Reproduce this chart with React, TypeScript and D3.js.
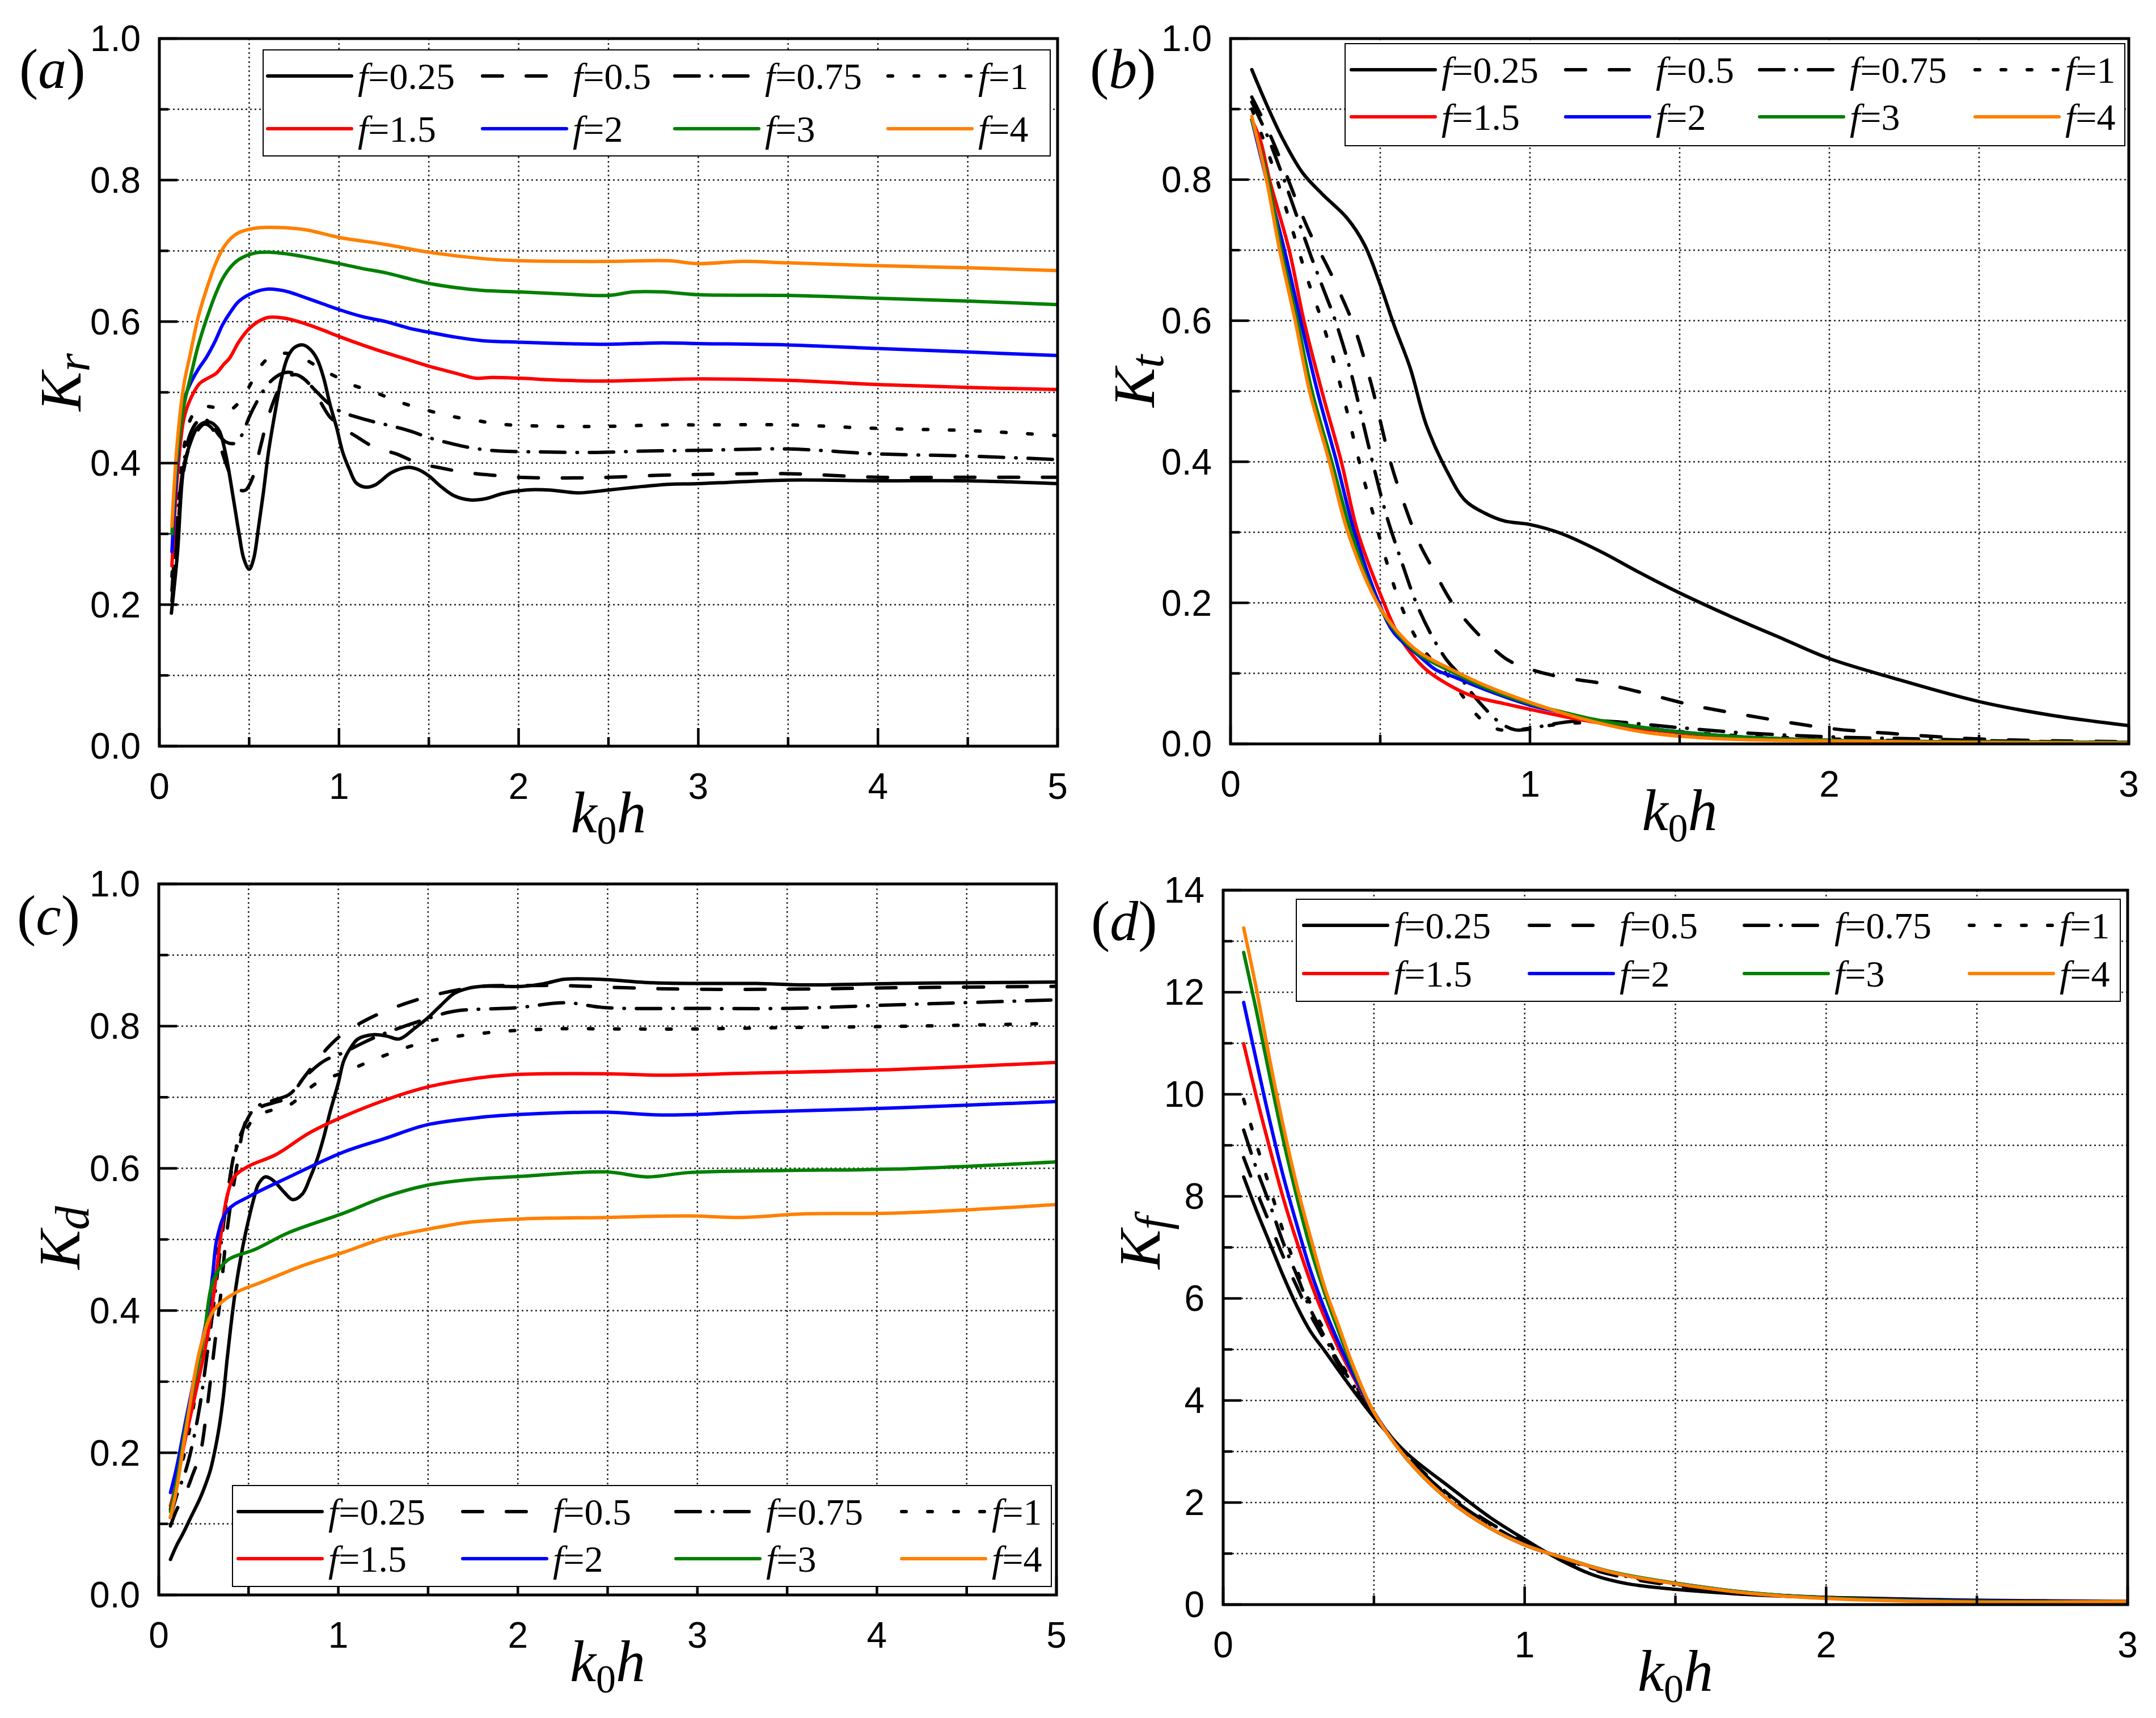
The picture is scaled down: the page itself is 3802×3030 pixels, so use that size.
import React, { useEffect } from 'react';
import * as d3 from 'd3';

// figure size (px)
const W = 3802;
const H = 3030;

const SANS = "'Liberation Sans', Arial, sans-serif";
const SERIF = "'Liberation Serif', 'Times New Roman', serif";

// series: f values, colors, dash styles (legend order)
const fLabels = ['0.25', '0.5', '0.75', '1', '1.5', '2', '3', '4'];
const seriesColors = ['#000000', '#000000', '#000000', '#000000', '#ff0000', '#0000ff', '#008000', '#ff8000'];
const seriesDash = ['', '35,42', '43,21,1,21', '8,38', '', '', '', ''];

// tick values
const xTicks5 = [0, 1, 2, 3, 4, 5];
const xTicks3 = [0, 1, 2, 3];
const yTicksK = [0, 0.2, 0.4, 0.6, 0.8, 1.0];
const yTicksKf = [0, 2, 4, 6, 8, 10, 12, 14];

type Pt = [number, number];

// ---------- (a) Kr ----------
const krF025: Pt[] = [[0.067,0.188],[0.1,0.27],[0.136,0.395],[0.172,0.428],[0.208,0.449],[0.245,0.457],[0.28,0.458],[0.308,0.454],[0.335,0.445],[0.37,0.412],[0.41,0.353],[0.444,0.3],[0.47,0.265],[0.5,0.25],[0.525,0.265],[0.553,0.311],[0.58,0.36],[0.607,0.415],[0.643,0.47],[0.68,0.52],[0.715,0.55],[0.75,0.563],[0.8,0.567],[0.843,0.56],[0.88,0.546],[0.915,0.52],[0.95,0.483],[0.987,0.45],[1.02,0.416],[1.06,0.39],[1.096,0.372],[1.15,0.366],[1.2,0.369],[1.295,0.387],[1.386,0.394],[1.44,0.391],[1.5,0.382],[1.567,0.367],[1.64,0.354],[1.73,0.348],[1.82,0.35],[1.91,0.357],[2.04,0.362],[2.17,0.362],[2.33,0.358],[2.5,0.362],[2.65,0.366],[2.83,0.37],[3.0,0.371],[3.5,0.376],[4.0,0.375],[4.5,0.375],[5.0,0.371]];
const krF05: Pt[] = [[0.07,0.205],[0.1,0.3],[0.136,0.39],[0.17,0.425],[0.21,0.445],[0.25,0.455],[0.29,0.45],[0.33,0.43],[0.37,0.4],[0.41,0.375],[0.45,0.362],[0.48,0.362],[0.52,0.38],[0.56,0.42],[0.6,0.46],[0.64,0.49],[0.68,0.512],[0.72,0.523],[0.76,0.525],[0.8,0.52],[0.85,0.507],[0.9,0.485],[0.95,0.465],[1.0,0.455],[1.05,0.445],[1.1,0.437],[1.2,0.422],[1.32,0.413],[1.44,0.4],[1.55,0.394],[1.7,0.387],[1.85,0.383],[2.0,0.38],[2.25,0.379],[2.5,0.38],[2.8,0.383],[3.0,0.384],[3.5,0.385],[4.0,0.38],[4.5,0.38],[5.0,0.38]];
const krF075: Pt[] = [[0.07,0.22],[0.1,0.32],[0.136,0.4],[0.17,0.44],[0.21,0.458],[0.25,0.462],[0.29,0.455],[0.33,0.44],[0.37,0.43],[0.42,0.428],[0.46,0.44],[0.5,0.465],[0.55,0.49],[0.6,0.51],[0.65,0.522],[0.7,0.528],[0.75,0.527],[0.8,0.52],[0.86,0.505],[0.93,0.487],[1.0,0.474],[1.1,0.465],[1.2,0.458],[1.3,0.452],[1.4,0.445],[1.5,0.436],[1.62,0.428],[1.75,0.421],[1.9,0.417],[2.1,0.416],[2.4,0.415],[2.7,0.417],[3.0,0.418],[3.5,0.42],[4.0,0.413],[4.5,0.41],[5.0,0.405]];
const krF1: Pt[] = [[0.07,0.24],[0.1,0.34],[0.136,0.42],[0.17,0.46],[0.21,0.476],[0.25,0.48],[0.3,0.479],[0.35,0.475],[0.4,0.476],[0.45,0.488],[0.5,0.508],[0.55,0.532],[0.6,0.547],[0.66,0.554],[0.72,0.555],[0.8,0.548],[0.87,0.538],[0.93,0.529],[1.0,0.52],[1.06,0.512],[1.2,0.5],[1.34,0.486],[1.5,0.474],[1.63,0.466],[1.77,0.46],[1.9,0.455],[2.2,0.452],[2.5,0.452],[2.8,0.454],[3.0,0.454],[3.5,0.454],[4.0,0.449],[4.5,0.446],[5.0,0.439]];
const krF15: Pt[] = [[0.07,0.255],[0.1,0.38],[0.136,0.462],[0.172,0.49],[0.226,0.513],[0.27,0.52],[0.317,0.527],[0.36,0.54],[0.39,0.548],[0.444,0.572],[0.5,0.59],[0.55,0.6],[0.607,0.606],[0.66,0.606],[0.715,0.604],[0.8,0.598],[0.9,0.589],[1.0,0.579],[1.13,0.567],[1.26,0.556],[1.4,0.545],[1.5,0.537],[1.65,0.527],[1.76,0.52],[1.85,0.521],[2.0,0.52],[2.25,0.517],[2.5,0.516],[2.8,0.518],[3.0,0.519],[3.5,0.517],[4.0,0.511],[4.5,0.507],[5.0,0.504]];
const krF2: Pt[] = [[0.07,0.275],[0.1,0.4],[0.136,0.487],[0.172,0.512],[0.215,0.532],[0.263,0.55],[0.31,0.572],[0.353,0.596],[0.4,0.615],[0.444,0.629],[0.534,0.642],[0.607,0.646],[0.66,0.645],[0.72,0.642],[0.8,0.635],[0.9,0.626],[1.0,0.617],[1.13,0.607],[1.26,0.6],[1.4,0.59],[1.5,0.585],[1.65,0.578],[1.8,0.573],[2.0,0.571],[2.25,0.569],[2.5,0.568],[2.8,0.57],[3.0,0.569],[3.5,0.567],[4.0,0.562],[4.5,0.557],[5.0,0.552]];
const krF3: Pt[] = [[0.07,0.3],[0.1,0.41],[0.136,0.48],[0.172,0.52],[0.215,0.565],[0.263,0.604],[0.31,0.637],[0.353,0.661],[0.4,0.678],[0.444,0.688],[0.534,0.697],[0.62,0.698],[0.7,0.696],[0.8,0.692],[0.9,0.687],[1.0,0.682],[1.13,0.675],[1.26,0.669],[1.4,0.66],[1.5,0.654],[1.65,0.648],[1.8,0.644],[2.0,0.642],[2.25,0.639],[2.5,0.637],[2.64,0.642],[2.8,0.642],[3.0,0.638],[3.5,0.637],[4.0,0.633],[4.5,0.629],[5.0,0.624]];
const krF4: Pt[] = [[0.07,0.311],[0.1,0.43],[0.136,0.51],[0.172,0.554],[0.215,0.605],[0.263,0.646],[0.31,0.68],[0.353,0.703],[0.4,0.718],[0.444,0.726],[0.534,0.732],[0.66,0.733],[0.81,0.73],[1.0,0.719],[1.26,0.709],[1.5,0.698],[1.8,0.689],[2.0,0.686],[2.5,0.685],[2.83,0.686],[3.0,0.682],[3.25,0.685],[3.5,0.683],[4.0,0.679],[4.5,0.676],[5.0,0.672]];

// ---------- (b) Kt ----------
const ktF025: Pt[] = [[0.071,0.956],[0.12,0.907],[0.174,0.858],[0.24,0.81],[0.305,0.78],[0.39,0.745],[0.447,0.708],[0.5,0.651],[0.545,0.595],[0.6,0.533],[0.654,0.452],[0.72,0.389],[0.784,0.345],[0.85,0.327],[0.915,0.316],[1.0,0.311],[1.1,0.299],[1.23,0.274],[1.37,0.242],[1.5,0.214],[1.69,0.177],[1.85,0.148],[2.0,0.121],[2.2,0.095],[2.5,0.06],[2.75,0.04],[3.0,0.026]];
const ktF05: Pt[] = [[0.071,0.917],[0.12,0.875],[0.17,0.825],[0.22,0.77],[0.27,0.72],[0.32,0.68],[0.37,0.635],[0.414,0.59],[0.47,0.51],[0.534,0.4],[0.58,0.34],[0.63,0.285],[0.68,0.245],[0.74,0.2],[0.8,0.168],[0.86,0.142],[0.93,0.118],[1.0,0.106],[1.1,0.095],[1.25,0.085],[1.4,0.07],[1.54,0.055],[1.65,0.046],[1.8,0.035],[2.0,0.022],[2.2,0.015],[2.5,0.007],[3.0,0.003]];
const ktF075: Pt[] = [[0.071,0.91],[0.12,0.865],[0.17,0.81],[0.22,0.75],[0.27,0.69],[0.31,0.645],[0.35,0.6],[0.4,0.53],[0.44,0.46],[0.474,0.4],[0.52,0.325],[0.57,0.26],[0.62,0.2],[0.67,0.155],[0.72,0.12],[0.76,0.1],[0.8,0.075],[0.85,0.05],[0.9,0.03],[0.95,0.02],[1.0,0.021],[1.05,0.026],[1.12,0.031],[1.2,0.033],[1.3,0.031],[1.4,0.027],[1.5,0.023],[1.7,0.016],[2.0,0.01],[2.3,0.007],[2.6,0.004],[3.0,0.002]];
const ktF1: Pt[] = [[0.071,0.9],[0.12,0.845],[0.17,0.78],[0.22,0.71],[0.26,0.655],[0.305,0.6],[0.35,0.535],[0.39,0.47],[0.43,0.4],[0.48,0.32],[0.52,0.26],[0.566,0.2],[0.62,0.15],[0.67,0.12],[0.73,0.095],[0.78,0.065],[0.82,0.042],[0.86,0.027],[0.9,0.02],[0.95,0.02],[1.0,0.022],[1.1,0.028],[1.2,0.03],[1.4,0.022],[1.6,0.014],[2.0,0.007],[2.5,0.003],[3.0,0.002]];
const ktF15: Pt[] = [[0.071,0.885],[0.1,0.855],[0.13,0.8],[0.196,0.7],[0.245,0.6],[0.305,0.5],[0.37,0.4],[0.425,0.3],[0.512,0.2],[0.556,0.158],[0.6,0.13],[0.654,0.105],[0.74,0.081],[0.806,0.068],[0.915,0.057],[1.0,0.049],[1.1,0.04],[1.2,0.032],[1.4,0.02],[1.6,0.012],[1.8,0.008],[2.0,0.005],[2.5,0.003],[3.0,0.002]];
const ktF2: Pt[] = [[0.071,0.885],[0.12,0.8],[0.18,0.7],[0.234,0.6],[0.29,0.5],[0.354,0.4],[0.414,0.3],[0.496,0.2],[0.545,0.158],[0.632,0.124],[0.686,0.105],[0.74,0.096],[0.85,0.077],[1.0,0.055],[1.1,0.045],[1.2,0.035],[1.4,0.022],[1.6,0.013],[1.8,0.008],[2.0,0.005],[2.5,0.003],[3.0,0.002]];
const ktF3: Pt[] = [[0.071,0.885],[0.125,0.8],[0.17,0.7],[0.223,0.6],[0.272,0.5],[0.338,0.4],[0.403,0.3],[0.49,0.2],[0.56,0.155],[0.63,0.127],[0.74,0.102],[0.85,0.08],[1.0,0.057],[1.1,0.046],[1.2,0.036],[1.4,0.022],[1.6,0.013],[1.8,0.008],[2.0,0.005],[2.5,0.003],[3.0,0.002]];
const ktF4: Pt[] = [[0.071,0.89],[0.12,0.8],[0.164,0.7],[0.216,0.6],[0.264,0.5],[0.33,0.4],[0.392,0.3],[0.49,0.2],[0.56,0.158],[0.63,0.13],[0.74,0.105],[0.85,0.083],[1.0,0.059],[1.18,0.035],[1.39,0.016],[1.6,0.008],[2.0,0.004],[2.5,0.002],[3.0,0.001]];

// ---------- (c) Kd ----------
const kdF025: Pt[] = [[0.065,0.05],[0.1,0.07],[0.134,0.086],[0.18,0.11],[0.23,0.136],[0.26,0.155],[0.287,0.175],[0.31,0.2],[0.337,0.237],[0.36,0.28],[0.38,0.33],[0.4,0.375],[0.42,0.416],[0.44,0.45],[0.46,0.479],[0.48,0.505],[0.505,0.533],[0.53,0.558],[0.555,0.578],[0.593,0.588],[0.62,0.586],[0.65,0.58],[0.7,0.566],[0.746,0.556],[0.8,0.564],[0.84,0.585],[0.88,0.611],[0.92,0.645],[0.956,0.681],[1.0,0.72],[1.03,0.751],[1.07,0.77],[1.11,0.782],[1.2,0.788],[1.27,0.786],[1.34,0.782],[1.43,0.798],[1.5,0.812],[1.57,0.829],[1.645,0.846],[1.72,0.853],[1.8,0.856],[2.03,0.856],[2.15,0.86],[2.26,0.866],[2.45,0.866],[2.75,0.861],[3.0,0.86],[3.33,0.86],[3.6,0.858],[4.1,0.86],[4.5,0.861],[5.0,0.862]];
const kdF05: Pt[] = [[0.065,0.097],[0.1,0.12],[0.15,0.144],[0.19,0.17],[0.23,0.198],[0.26,0.245],[0.287,0.3],[0.315,0.36],[0.344,0.42],[0.37,0.49],[0.4,0.549],[0.44,0.611],[0.47,0.655],[0.5,0.673],[0.574,0.687],[0.65,0.693],[0.727,0.7],[0.8,0.725],[0.88,0.751],[0.95,0.772],[1.03,0.79],[1.15,0.808],[1.26,0.821],[1.4,0.834],[1.57,0.846],[1.8,0.856],[2.0,0.857],[2.26,0.857],[2.6,0.854],[2.95,0.852],[3.5,0.852],[4.1,0.854],[5.0,0.856]];
const kdF075: Pt[] = [[0.065,0.109],[0.1,0.14],[0.15,0.175],[0.19,0.215],[0.23,0.268],[0.27,0.34],[0.306,0.409],[0.345,0.49],[0.383,0.564],[0.42,0.62],[0.46,0.65],[0.536,0.685],[0.63,0.695],[0.727,0.704],[0.82,0.73],[0.92,0.751],[1.03,0.763],[1.15,0.778],[1.26,0.79],[1.49,0.81],[1.645,0.821],[2.0,0.826],[2.26,0.833],[2.49,0.826],[3.0,0.825],[3.5,0.825],[4.1,0.83],[5.0,0.837]];
const kdF1: Pt[] = [[0.065,0.12],[0.1,0.16],[0.15,0.206],[0.19,0.26],[0.23,0.33],[0.27,0.39],[0.306,0.447],[0.345,0.51],[0.383,0.564],[0.44,0.634],[0.5,0.66],[0.536,0.673],[0.63,0.682],[0.727,0.689],[0.88,0.72],[1.03,0.735],[1.26,0.759],[1.49,0.778],[1.8,0.79],[2.18,0.796],[2.6,0.796],[2.95,0.796],[3.5,0.798],[4.2,0.8],[5.0,0.804]];
const kdF15: Pt[] = [[0.065,0.125],[0.1,0.16],[0.15,0.222],[0.21,0.29],[0.27,0.362],[0.31,0.43],[0.344,0.502],[0.38,0.56],[0.42,0.588],[0.5,0.603],[0.65,0.619],[0.84,0.65],[1.03,0.673],[1.26,0.696],[1.49,0.714],[1.72,0.725],[1.99,0.732],[2.49,0.733],[2.8,0.731],[3.3,0.734],[4.1,0.739],[5.0,0.749]];
const kdF2: Pt[] = [[0.065,0.144],[0.1,0.18],[0.15,0.245],[0.21,0.32],[0.27,0.393],[0.3,0.45],[0.325,0.502],[0.383,0.541],[0.5,0.56],[0.727,0.588],[1.03,0.623],[1.26,0.642],[1.49,0.661],[1.8,0.672],[2.03,0.676],[2.49,0.679],[2.8,0.675],[3.3,0.679],[4.1,0.685],[5.0,0.694]];
const kdF3: Pt[] = [[0.065,0.117],[0.1,0.16],[0.15,0.237],[0.2,0.3],[0.25,0.362],[0.306,0.444],[0.383,0.471],[0.536,0.486],[0.727,0.51],[1.03,0.537],[1.26,0.56],[1.49,0.576],[1.72,0.584],[2.03,0.589],[2.49,0.595],[2.72,0.588],[2.95,0.594],[3.5,0.597],[4.1,0.599],[5.0,0.609]];
const kdF4: Pt[] = [[0.065,0.109],[0.1,0.15],[0.15,0.23],[0.23,0.346],[0.306,0.4],[0.42,0.424],[0.574,0.44],[0.8,0.463],[1.03,0.482],[1.26,0.502],[1.49,0.514],[1.72,0.524],[2.03,0.529],[2.49,0.531],[2.95,0.533],[3.25,0.531],[3.6,0.536],[4.1,0.537],[5.0,0.549]];

// ---------- (d) Kf ----------
const kfF025: Pt[] = [[0.068,8.38],[0.11,7.73],[0.155,7.08],[0.2,6.43],[0.246,5.83],[0.29,5.35],[0.337,4.97],[0.383,4.59],[0.43,4.21],[0.5,3.67],[0.61,2.96],[0.75,2.31],[0.885,1.71],[1.0,1.28],[1.11,0.9],[1.23,0.575],[1.34,0.41],[1.5,0.3],[1.75,0.195],[2.0,0.14],[2.48,0.087],[3.0,0.065]];
const kfF05: Pt[] = [[0.068,8.76],[0.11,8.11],[0.155,7.46],[0.2,6.81],[0.246,6.21],[0.29,5.67],[0.337,5.18],[0.383,4.7],[0.43,4.26],[0.5,3.72],[0.61,2.92],[0.75,2.15],[0.885,1.6],[1.0,1.22],[1.11,0.93],[1.23,0.68],[1.34,0.52],[1.5,0.37],[1.75,0.22],[2.0,0.14],[2.5,0.08],[3.0,0.06]];
const kfF075: Pt[] = [[0.068,9.3],[0.11,8.55],[0.155,7.84],[0.2,7.08],[0.246,6.43],[0.29,5.78],[0.337,5.24],[0.383,4.75],[0.43,4.32],[0.5,3.74],[0.61,2.9],[0.75,2.12],[0.885,1.57],[1.0,1.2],[1.11,0.94],[1.23,0.7],[1.34,0.55],[1.5,0.38],[1.75,0.22],[2.0,0.14],[2.5,0.08],[3.0,0.06]];
const kfF1: Pt[] = [[0.068,9.9],[0.11,9.03],[0.155,8.17],[0.2,7.3],[0.246,6.54],[0.29,5.89],[0.337,5.35],[0.383,4.8],[0.43,4.37],[0.5,3.77],[0.61,2.88],[0.75,2.1],[0.885,1.55],[1.0,1.19],[1.11,0.95],[1.23,0.72],[1.34,0.57],[1.5,0.4],[1.75,0.22],[2.0,0.14],[2.5,0.08],[3.0,0.06]];
const kfF15: Pt[] = [[0.068,10.99],[0.11,9.96],[0.155,8.93],[0.2,7.95],[0.246,7.08],[0.29,6.32],[0.337,5.62],[0.383,5.02],[0.43,4.48],[0.5,3.77],[0.61,2.85],[0.75,2.04],[0.885,1.5],[1.0,1.17],[1.11,0.95],[1.29,0.63],[1.5,0.41],[1.75,0.22],[2.0,0.13],[2.5,0.07],[3.0,0.06]];
const kfF2: Pt[] = [[0.068,11.8],[0.11,10.66],[0.155,9.47],[0.2,8.38],[0.246,7.41],[0.29,6.54],[0.337,5.78],[0.383,5.13],[0.43,4.53],[0.5,3.77],[0.61,2.85],[0.75,2.04],[0.885,1.5],[1.0,1.17],[1.11,0.95],[1.29,0.63],[1.5,0.42],[1.75,0.23],[2.0,0.13],[2.5,0.07],[3.0,0.06]];
const kfF3: Pt[] = [[0.068,12.78],[0.11,11.64],[0.155,10.34],[0.2,9.09],[0.246,7.95],[0.29,6.97],[0.337,6.1],[0.383,5.35],[0.43,4.64],[0.5,3.77],[0.61,2.85],[0.75,2.04],[0.885,1.5],[1.0,1.17],[1.11,0.95],[1.29,0.64],[1.5,0.42],[1.75,0.23],[2.0,0.13],[2.5,0.06],[3.0,0.06]];
const kfF4: Pt[] = [[0.068,13.26],[0.11,12.07],[0.155,10.66],[0.2,9.36],[0.246,8.17],[0.29,7.19],[0.337,6.21],[0.383,5.46],[0.43,4.7],[0.5,3.77],[0.61,2.85],[0.75,2.04],[0.885,1.5],[1.0,1.17],[1.11,0.95],[1.29,0.63],[1.5,0.41],[1.75,0.22],[2.0,0.12],[2.48,0.05],[3.0,0.06]];

// layout of the four panels (pixels)
const panels = [
  {
    id: 'a', sub: 'r', x0: 281, x1: 1865, y0: 68, y1: 1316,
    xTicks: xTicks5, yTicks: yTicksK, fmt: (v: number) => v.toFixed(1),
    series: [krF025, krF05, krF075, krF1, krF15, krF2, krF3, krF4],
    legend: { x: 464, y: 88, w: 1388, h: 187, cols: [6, 385, 724, 1100], rows: [46, 139] },
    ylab: { x: 142, y: 674 }, tag: { x: 34, y: 155 },
  },
  {
    id: 'b', sub: 't', x0: 2170, x1: 3754, y0: 68, y1: 1312,
    xTicks: xTicks3, yTicks: yTicksK, fmt: (v: number) => v.toFixed(1),
    series: [ktF025, ktF05, ktF075, ktF1, ktF15, ktF2, ktF3, ktF4],
    legend: { x: 2372, y: 77, w: 1375, h: 180, cols: [9, 387, 729, 1109], rows: [46, 129] },
    ylab: { x: 2035, y: 672 }, tag: { x: 1922, y: 155 },
  },
  {
    id: 'c', sub: 'd', x0: 280, x1: 1863, y0: 1559, y1: 2813,
    xTicks: xTicks5, yTicks: yTicksK, fmt: (v: number) => v.toFixed(1),
    series: [kdF025, kdF05, kdF075, kdF1, kdF15, kdF2, kdF3, kdF4],
    legend: { x: 410, y: 2620, w: 1444, h: 178, cols: [8, 404, 780, 1178], rows: [46, 129] },
    ylab: { x: 140, y: 2183 }, tag: { x: 30, y: 1648 },
  },
  {
    id: 'd', sub: 'f', x0: 2157, x1: 3752, y0: 1570, y1: 2830,
    xTicks: xTicks3, yTicks: yTicksKf, fmt: (v: number) => String(v),
    series: [kfF025, kfF05, kfF075, kfF1, kfF15, kfF2, kfF3, kfF4],
    legend: { x: 2286, y: 1586, w: 1453, h: 180, cols: [11, 409, 788, 1185], rows: [46, 131] },
    ylab: { x: 2045, y: 2192 }, tag: { x: 1924, y: 1658 },
  },
];

const mids = (t: number[]) => t.slice(1).map((v, i) => (v + t[i]) / 2);

const Panel = ({ p }) => {
  const x = d3.scaleLinear().domain([p.xTicks[0], p.xTicks[p.xTicks.length - 1]]).range([p.x0, p.x1]);
  const y = d3.scaleLinear().domain([p.yTicks[0], p.yTicks[p.yTicks.length - 1]]).range([p.y1, p.y0]);
  const xMinor = mids(p.xTicks);
  const yMinor = mids(p.yTicks);
  const gridX = [...p.xTicks.slice(1, -1), ...xMinor];
  const gridY = [...p.yTicks.slice(1, -1), ...yMinor];

  const line = d3
    .line<Pt>()
    .x((d) => x(d[0]))
    .y((d) => y(d[1]))
    .curve(d3.curveCatmullRom.alpha(0.5));

  const lg = p.legend;

  return (
    <g>
      <defs>
        <clipPath id={`clip-${p.id}`}>
          <rect x={p.x0} y={p.y0} width={p.x1 - p.x0} height={p.y1 - p.y0} />
        </clipPath>
      </defs>

      {/* dotted grid */}
      <g stroke="#222" strokeWidth={2.5} strokeDasharray="3,5">
        {gridX.map((v) => (
          <line key={`gx${v}`} x1={x(v)} x2={x(v)} y1={p.y0} y2={p.y1} />
        ))}
        {gridY.map((v) => (
          <line key={`gy${v}`} x1={p.x0} x2={p.x1} y1={y(v)} y2={y(v)} />
        ))}
      </g>

      {/* curves */}
      <g clipPath={`url(#clip-${p.id})`} fill="none" strokeWidth={6} strokeLinecap="round" strokeLinejoin="round">
        {p.series.map((s: Pt[], i: number) => (
          <path key={i} d={line(s) || ''} stroke={seriesColors[i]} strokeDasharray={seriesDash[i] || undefined} />
        ))}
      </g>

      {/* inward ticks, bottom and left */}
      <g stroke="#000" strokeWidth={4.5}>
        {p.xTicks.map((v) => (
          <line key={`tx${v}`} x1={x(v)} x2={x(v)} y1={p.y1} y2={p.y1 - 32} />
        ))}
        {xMinor.map((v) => (
          <line key={`mx${v}`} x1={x(v)} x2={x(v)} y1={p.y1} y2={p.y1 - 16} />
        ))}
        {p.yTicks.map((v) => (
          <line key={`ty${v}`} x1={p.x0} x2={p.x0 + 32} y1={y(v)} y2={y(v)} />
        ))}
        {yMinor.map((v) => (
          <line key={`my${v}`} x1={p.x0} x2={p.x0 + 16} y1={y(v)} y2={y(v)} />
        ))}
      </g>

      <rect x={p.x0} y={p.y0} width={p.x1 - p.x0} height={p.y1 - p.y0} fill="none" stroke="#000" strokeWidth={5} />

      {/* tick labels */}
      <g fontFamily={SANS} fontSize={64} fill="#000">
        {p.xTicks.map((v) => (
          <text key={`lx${v}`} x={x(v)} y={p.y1 + 93} textAnchor="middle">{v}</text>
        ))}
        {p.yTicks.map((v) => (
          <text key={`ly${v}`} x={p.x0 - 33} y={y(v)} dy="0.35em" textAnchor="end">{p.fmt(v)}</text>
        ))}
      </g>

      {/* axis titles */}
      <text x={(p.x0 + p.x1) / 2} y={p.y1 + 152} textAnchor="middle" fontFamily={SERIF} fontSize={104}>
        <tspan fontStyle="italic">k</tspan>
        <tspan fontSize={70} dy={20}>0</tspan>
        <tspan fontStyle="italic" dy={-20}>h</tspan>
      </text>
      <text transform={`translate(${p.ylab.x},${p.ylab.y}) rotate(-90)`} textAnchor="middle" fontFamily={SERIF} fontSize={104}>
        <tspan fontStyle="italic">K</tspan>
        <tspan fontStyle="italic" fontSize={84} dy={16}>{p.sub}</tspan>
      </text>
      <text x={p.tag.x} y={p.tag.y} fontFamily={SERIF} fontSize={100}>
        (<tspan fontStyle="italic">{p.id}</tspan>)
      </text>

      {/* legend */}
      <rect x={lg.x} y={lg.y} width={lg.w} height={lg.h} fill="#fff" stroke="#000" strokeWidth={2} />
      {fLabels.map((f, i) => {
        const lx = lg.x + lg.cols[i % 4];
        const ly = lg.y + lg.rows[Math.floor(i / 4)];
        return (
          <g key={`lg${f}`}>
            <line x1={lx + 2} x2={lx + 150} y1={ly} y2={ly} stroke={seriesColors[i]} strokeWidth={6}
              strokeLinecap="round" strokeDasharray={seriesDash[i] || undefined} />
            <text x={lx + 161} y={ly + 23} fontFamily={SERIF} fontSize={66}>
              <tspan fontStyle="italic">f</tspan>={f}
            </text>
          </g>
        );
      })}
    </g>
  );
};

export default function App() {
  useEffect(() => {
    document.body.style.margin = '0';
  }, []);
  return (
    <svg width={W} height={H} viewBox={`0 0 ${W} ${H}`} style={{ display: 'block', background: '#fff' }}>
      <rect width={W} height={H} fill="#fff" />
      {panels.map((p) => (
        <Panel key={p.id} p={p} />
      ))}
    </svg>
  );
}
